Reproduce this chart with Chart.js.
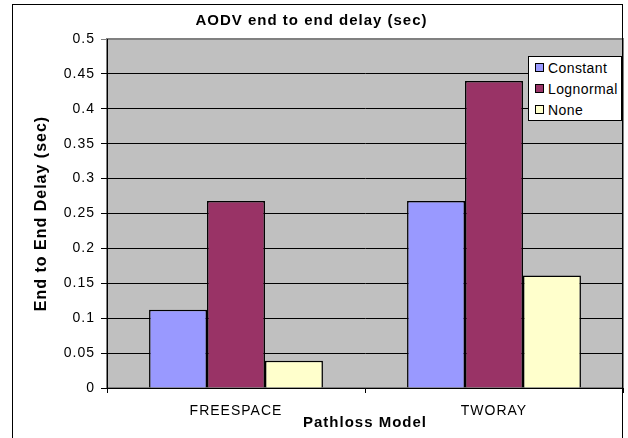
<!DOCTYPE html>
<html>
<head>
<meta charset="utf-8">
<script src="https://cdn.jsdelivr.net/npm/chart.js@4.4.0/dist/chart.umd.min.js"></script>
<style>
  html, body { margin: 0; padding: 0; background: #fff; }
  #wrap { position: relative; width: 628px; height: 438px; }
  #legend {
    position: absolute; left: 528px; top: 56px; width: 92px; height: 63px;
    background: #fff; border: 1px solid #000;
    font: 14px 'Liberation Sans', Arial, sans-serif; letter-spacing: 0.4px; color: #000;
  }
  #legend .item { position: absolute; left: 6px; height: 18px; line-height: 18px; white-space: nowrap; }
  #legend .box { display: inline-block; width: 7px; height: 7px; border: 1px solid #000; margin-right: 4px; vertical-align: 1px; }
</style>
</head>
<body>
<div id="wrap">
  <canvas id="chart" width="628" height="438"></canvas>
  <div id="legend"></div>
</div>
<script>
// chart data
const categories = ['FREESPACE', 'TWORAY'];
const constantVals = [0.112, 0.268];
const lognormalVals = [0.268, 0.440];
const noneVals = [0.039, 0.161];
const yTickLabels = ['0', '0.05', '0.1', '0.15', '0.2', '0.25', '0.3', '0.35', '0.4', '0.45', '0.5'];

const FONT = "'Liberation Sans', Arial, sans-serif";

// grey plot area + outer frame, Excel style
const frame = {
  id: 'frame',
  beforeUpdate(chart) { chart.ctx.letterSpacing = '1px'; },
  beforeDraw(chart) {
    const { ctx, chartArea: a } = chart;
    ctx.save();
    ctx.fillStyle = '#c0c0c0';
    ctx.fillRect(a.left, a.top, a.right - a.left, a.bottom - a.top);
    ctx.strokeStyle = '#808080';
    ctx.lineWidth = 2;
    ctx.strokeRect(a.left, a.top, a.right - a.left, a.bottom - a.top);
    ctx.restore();
    ctx.letterSpacing = '1px';
  },
  afterDraw(chart) {
    const ctx = chart.ctx;
    ctx.save();
    ctx.strokeStyle = '#000';
    ctx.lineWidth = 1;
    ctx.strokeRect(12.5, 4.5, 610, 470);
    ctx.restore();
  }
};

// legend box in html, built from the datasets
const htmlLegend = {
  id: 'htmlLegend',
  afterUpdate(chart) {
    const el = document.getElementById('legend');
    el.innerHTML = '';
    chart.data.datasets.forEach((ds, i) => {
      const item = document.createElement('div');
      item.className = 'item';
      item.style.top = (2 + i * 21) + 'px';
      const box = document.createElement('span');
      box.className = 'box';
      box.style.background = ds.backgroundColor;
      item.appendChild(box);
      item.appendChild(document.createTextNode(ds.label));
      el.appendChild(item);
    });
  }
};

const ctx = document.getElementById('chart').getContext('2d');

new Chart(ctx, {
  type: 'bar',
  data: {
    labels: categories,
    datasets: [
      { label: 'Constant', data: constantVals, backgroundColor: '#9999ff' },
      { label: 'Lognormal', data: lognormalVals, backgroundColor: '#993366' },
      { label: 'None', data: noneVals, backgroundColor: '#ffffcc' },
    ]
  },
  options: {
    responsive: false,
    animation: false,
    layout: { padding: { left: 0, right: 5, top: 0, bottom: 0 } },
    datasets: {
      bar: {
        borderColor: '#000',
        borderWidth: 1.5,
        categoryPercentage: 0.674,
        barPercentage: 1.0
      }
    },
    plugins: {
      legend: { display: false },
      tooltip: { enabled: false },
      title: {
        display: true,
        text: 'AODV end to end delay (sec)',
        color: '#000',
        font: { family: FONT, size: 15, weight: 'bold', lineHeight: 1.2 },
        padding: { top: 12, bottom: 9 }
      }
    },
    scales: {
      x: {
        afterFit(scale) { scale.height = 50; },
        grid: {
          offset: true,
          drawOnChartArea: false,
          drawTicks: true,
          tickLength: 5,
          color: '#000'
        },
        border: { display: true, color: '#000', width: 1 },
        ticks: {
          color: '#000',
          padding: 10,
          font: { family: FONT, size: 14, lineHeight: 1.2 }
        },
        title: {
          display: true,
          text: 'Pathloss Model',
          color: '#000',
          font: { family: FONT, size: 15, weight: 'bold', lineHeight: 1.2 },
          padding: { top: 0, bottom: 6 }
        }
      },
      y: {
        min: 0,
        max: 0.5,
        afterFit(scale) { scale.width = 107; },
        grid: {
          color: (c) => (c.tick && c.tick.value >= 0.5 ? '#808080' : '#000'),
          lineWidth: 1,
          drawTicks: true,
          tickLength: 6
        },
        border: { display: true, color: '#000', width: 1 },
        ticks: {
          stepSize: 0.05,
          color: '#000',
          padding: 6,
          font: { family: FONT, size: 14 },
          callback: (v, i) => yTickLabels[i]
        },
        title: {
          display: true,
          text: 'End to End Delay (sec)',
          color: '#000',
          font: { family: FONT, size: 16, weight: 'bold', lineHeight: 1.2 },
          padding: { top: 32, bottom: 0 }
        }
      }
    }
  },
  plugins: [frame, htmlLegend]
});
</script>
</body>
</html>
